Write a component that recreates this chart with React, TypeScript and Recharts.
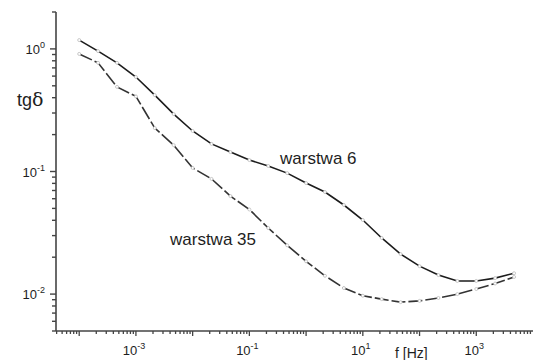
import React from 'react';
import { LineChart, Line, XAxis, YAxis } from 'recharts';

// Frequency points (Hz), three per decade
const freq = [
  1e-4, 2.15e-4, 4.64e-4, 1e-3, 2.15e-3, 4.64e-3, 1e-2, 2.15e-2, 4.64e-2,
  0.1, 0.215, 0.464, 1, 2.15, 4.64, 10, 21.5, 46.4, 100, 215, 464, 1000, 2150, 4640,
];
// tg delta, warstwa 6
const tg6 = [
  1.18, 0.96, 0.77, 0.59, 0.42, 0.294, 0.214, 0.168, 0.144, 0.124, 0.111, 0.097,
  0.0805, 0.068, 0.0533, 0.0402, 0.0287, 0.0212, 0.0169, 0.0143, 0.0128, 0.0128, 0.0135, 0.0148,
];
// tg delta, warstwa 35
const tg35 = [
  0.91, 0.77, 0.49, 0.41, 0.226, 0.164, 0.107, 0.087, 0.063, 0.049, 0.0346, 0.025,
  0.0185, 0.0141, 0.0112, 0.0097, 0.0091, 0.0086, 0.0088, 0.0093, 0.01, 0.011, 0.0122, 0.0138,
];

const seriesNames = ['warstwa 6', 'warstwa 35'];
const xDecades = [-4, -3, -2, -1, 0, 1, 2, 3];
const xLabelledDecades = [-3, -1, 1, 3];
const yDecades = [-3, -2, -1, 0];
const yLabelledDecades = [-2, -1, 0];
const minorMultipliers = [2, 3, 4, 5, 6, 7, 8, 9];
const xDomain: [number, number] = [3.9e-5, 1e4];
const yDomain: [number, number] = [0.005, 2];

const data = freq.map((f, i) => ({ f, w6: tg6[i], w35: tg35[i] }));

const buildTicks = (decades: number[], domain: [number, number]) => {
  const out: number[] = [];
  [decades[0] - 1, ...decades].forEach((d) => {
    const base = Math.pow(10, d);
    out.push(base);
    minorMultipliers.forEach((m) => out.push(m * base));
  });
  return out.filter((v) => v >= domain[0] * 0.999 && v <= domain[1] * 1.001);
};
const xTicks = buildTicks(xDecades, xDomain);
const yTicks = buildTicks(yDecades, yDomain);

const FONT = '"Liberation Sans", Arial, sans-serif';
const AXIS = '#444';
const TEXT = '#1e1e1e';

const decadeOf = (v: number) => {
  const l = Math.log10(v);
  const r = Math.round(l);
  return Math.abs(l - r) < 1e-6 ? r : null;
};

const XTick = (props: any) => {
  const { x, y, payload } = props;
  const d = decadeOf(payload.value);
  const major = d !== null;
  const labelled = d !== null && xLabelledDecades.includes(d);
  return (
    <g>
      <line x1={x} x2={x} y1={y} y2={y + (major ? 5 : 3)} stroke={AXIS} strokeWidth={1.3} />
      {labelled && (
        <text x={x - 2} y={y + 24} textAnchor="middle" fontFamily={FONT} fontSize={13} fill={TEXT}>
          <tspan>10</tspan>
          <tspan dy={-6} fontSize={9}>{String(d)}</tspan>
        </text>
      )}
    </g>
  );
};

const YTick = (props: any) => {
  const { x, y, payload } = props;
  const d = decadeOf(payload.value);
  const major = d !== null;
  const labelled = d !== null && yLabelledDecades.includes(d);
  return (
    <g>
      <path d={`M${x - (major ? 6 : 4)},${y}H${x}`} stroke={AXIS} strokeWidth={1.4} fill="none" />
      {labelled && (
        <text x={x - 11} y={y + 5} textAnchor="end" fontFamily={FONT} fontSize={13} fill={TEXT}>
          <tspan>10</tspan>
          <tspan dy={-6} fontSize={9}>{String(d)}</tspan>
        </text>
      )}
    </g>
  );
};

const dot6 = { r: 1.5, fill: '#fff', stroke: '#bbb', strokeWidth: 0.8 };

export default function App() {
  return (
    <div style={{ position: 'absolute', left: 0, top: 0, width: 533, height: 360, background: '#fff' }}>
      <LineChart width={533} height={360} data={data} margin={{ top: 12, right: 0, bottom: 0, left: 0 }}>
        <XAxis
          dataKey="f"
          type="number"
          scale="log"
          domain={xDomain}
          allowDataOverflow
          ticks={xTicks}
          interval={0}
          height={29}
          tickSize={0}
          tickMargin={0}
          tickLine={false}
          axisLine={{ stroke: AXIS, strokeWidth: 1.6 }}
          tick={<XTick />}
        />
        <YAxis
          type="number"
          scale="log"
          domain={yDomain}
          allowDataOverflow
          ticks={yTicks}
          interval={0}
          width={56}
          tickSize={0}
          tickMargin={0}
          tickLine={false}
          axisLine={{ stroke: AXIS, strokeWidth: 1.6 }}
          tick={<YTick />}
        />
        <Line
          name={seriesNames[0]}
          dataKey="w6"
          type="linear"
          stroke="#1c1c1c"
          strokeWidth={1.6}
          dot={dot6}
          isAnimationActive={false}
        />
        <Line
          name={seriesNames[1]}
          dataKey="w35"
          type="linear"
          stroke="#333"
          strokeWidth={1.6}
          strokeDasharray="14 3"
          dot={dot6}
          isAnimationActive={false}
        />
      </LineChart>
      <svg
        width={533}
        height={360}
        style={{ position: 'absolute', left: 0, top: 0, pointerEvents: 'none' }}
      >
        <text x={17} y={106} fontFamily={FONT} fontSize={18} fill={TEXT}>
          tg<tspan fontFamily='"DejaVu Serif", "Liberation Serif", serif' fontSize={19}>δ</tspan>
        </text>
        <text x={395} y={358} fontFamily={FONT} fontSize={14} fill={TEXT}>f [Hz]</text>
        <text x={280} y={164} fontFamily={FONT} fontSize={17} fill={TEXT}>{seriesNames[0]}</text>
        <text x={170} y={245} fontFamily={FONT} fontSize={17} fill={TEXT}>{seriesNames[1]}</text>
      </svg>
    </div>
  );
}
